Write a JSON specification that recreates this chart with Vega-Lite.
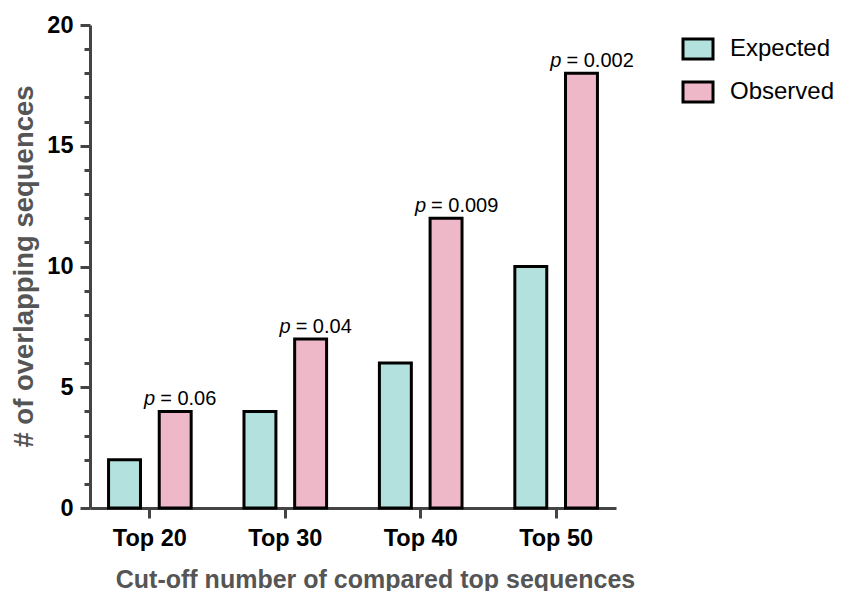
{
  "$schema": "https://vega.github.io/schema/vega-lite/v6.json",
  "autosize": "none",
  "width": 526,
  "height": 483,
  "padding": {"left": 90, "top": 25, "right": 232, "bottom": 83},
  "config": {
    "font": "Liberation Sans",
    "view": {"stroke": null},
    "axis": {
      "domainColor": "#444444",
      "domainWidth": 3,
      "tickColor": "#444444",
      "tickWidth": 3,
      "grid": false,
      "labelFont": "Liberation Sans",
      "labelFontWeight": "bold",
      "labelFontSize": 23.5,
      "labelColor": "#000000",
      "titleFont": "Liberation Sans",
      "titleFontWeight": "bold",
      "titleFontSize": 25,
      "titleColor": "#555555"
    }
  },
  "data": {
    "values": [
      {"group": "Top 20", "series": "Expected", "value": 2},
      {"group": "Top 20", "series": "Observed", "value": 4, "ptext": "= 0.06"},
      {"group": "Top 30", "series": "Expected", "value": 4},
      {"group": "Top 30", "series": "Observed", "value": 7, "ptext": "= 0.04"},
      {"group": "Top 40", "series": "Expected", "value": 6},
      {"group": "Top 40", "series": "Observed", "value": 12, "ptext": "= 0.009"},
      {"group": "Top 50", "series": "Expected", "value": 10},
      {"group": "Top 50", "series": "Observed", "value": 18, "ptext": "= 0.002"}
    ]
  },
  "encoding": {
    "x": {
      "field": "group",
      "type": "nominal",
      "sort": null,
      "scale": {"paddingInner": 0.39, "paddingOuter": 0.137},
      "axis": {
        "labelAngle": 0,
        "tickSize": 10,
        "labelPadding": 8,
        "title": "Cut-off number of compared top sequences",
        "titleX": 285,
        "titleY": 79,
        "titleBaseline": "alphabetic",
        "titleAnchor": "middle",
        "titleAlign": "center"
      }
    },
    "xOffset": {
      "field": "series",
      "type": "nominal",
      "scale": {"paddingInner": 0.37, "paddingOuter": 0}
    },
    "y": {
      "field": "value",
      "type": "quantitative",
      "scale": {"domain": [0, 20], "nice": false},
      "axis": {
        "values": [0,1,2,3,4,5,6,7,8,9,10,11,12,13,14,15,16,17,18,19,20],
        "labelExpr": "datum.value % 5 === 0 ? datum.label : ''",
        "tickSize": {"condition": {"test": "datum.value % 5 === 0", "value": 10}, "value": 6},
        "labelPadding": {"condition": {"test": "datum.value % 5 === 0", "value": 7}, "value": 11},
        "title": "# of overlapping sequences",
        "titleFontSize": 27.5,
        "titleX": -58,
        "titleY": 241,
        "titleAngle": 270,
        "titleBaseline": "alphabetic",
        "titleAlign": "center"
      }
    }
  },
  "layer": [
    {
      "mark": {"type": "bar", "stroke": "#000000", "strokeWidth": 3},
      "encoding": {
        "color": {
          "field": "series",
          "type": "nominal",
          "scale": {"domain": ["Expected", "Observed"], "range": ["#b3e2de", "#efb8c9"]},
          "legend": {
            "title": null,
            "orient": "none",
            "legendX": 596,
            "legendY": 12,
            "padding": 0,
            "symbolType": "M-1.5,-1H1.5V1H-1.5Z",
            "symbolSize": 400,
            "symbolStrokeColor": "#000000",
            "symbolStrokeWidth": 3,
            "symbolOpacity": 1,
            "labelFont": "Liberation Sans",
            "labelFontSize": 24,
            "labelColor": "#000000",
            "labelOffset": 20,
            "rowPadding": 11
          }
        }
      }
    },
    {
      "transform": [{"filter": "datum.ptext != null"}],
      "mark": {"type": "text", "text": "p", "fontStyle": "italic", "fontSize": 20, "align": "right", "baseline": "alphabetic", "dx": -20, "dy": -6, "color": "#000000"}
    },
    {
      "transform": [{"filter": "datum.ptext != null"}],
      "mark": {"type": "text", "fontSize": 20, "align": "left", "baseline": "alphabetic", "dx": -15, "dy": -6, "color": "#000000"},
      "encoding": {"text": {"field": "ptext"}}
    }
  ]
}
